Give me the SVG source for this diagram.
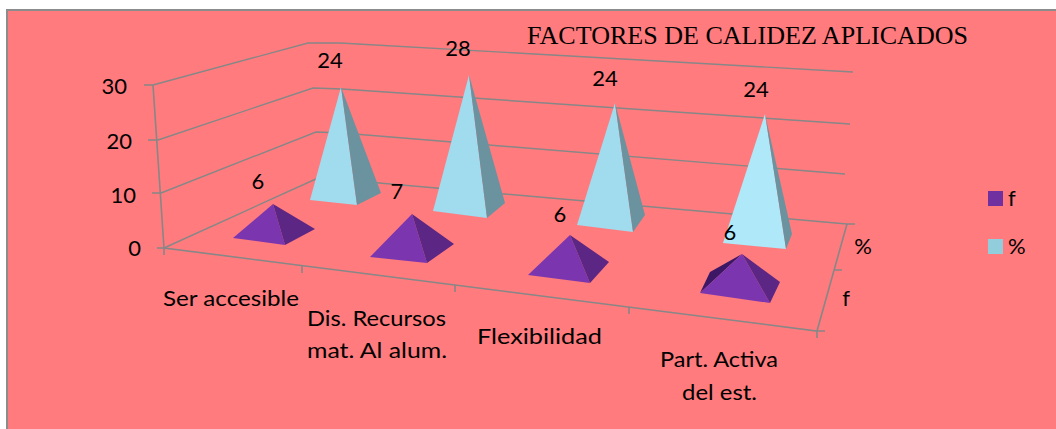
<svg xmlns="http://www.w3.org/2000/svg" width="1056" height="429" viewBox="0 0 1056 429">
<style>
.ax{fill:none;stroke:#878787;stroke-width:1.6}
.gr{fill:none;stroke:#878787;stroke-width:1.4}
.t{font-family:Lato,"Liberation Sans",sans-serif;font-size:22px;fill:#000}
.tm{text-anchor:middle}
.te{text-anchor:end}
.pl{fill:#7B36AF}
.pd{fill:#5C2684}
.pk{fill:#3C1766}
.bl{fill:#A0DCEE}
.bl2{fill:#AEE8F9}
.bd{fill:#6B929F}
</style>
<rect x="0" y="0" width="1056" height="429" fill="#ffffff"/>
<rect x="7" y="10" width="1060" height="430" fill="#FF7B7E" stroke="#8c8c8c" stroke-width="2"/>
<text x="527" y="44" style="font-family:'Liberation Serif','Times New Roman',serif;font-size:25.5px" textLength="441" lengthAdjust="spacingAndGlyphs">FACTORES DE CALIDEZ APLICADOS</text>
<g id="connectors">
<polyline class="gr" points="153,85 308,43 340,43 853,72"/>
<polyline class="gr" points="158,140 313,88 342,89 850,124"/>
<polyline class="gr" points="161,193 316,132 342,133 845,174"/>
<polyline class="gr" points="164,248 318,178 345,180 847,224"/>
<polyline class="ax" points="153,85 164,248 817,331 847,224"/>
<path class="ax" d="M144,85H153M148,140H158M152,193H161M157,248H164M164,248V255M302,265V273M455,285V292M629,307V314M817,331V338M817,331H825M834,270H842M847,224H855"/>
</g>
<g id="axis-labels">
<text class="t te" x="127" y="94">30</text>
<text class="t te" x="132" y="149">20</text>
<text class="t te" x="136" y="203">10</text>
<text class="t te" x="141" y="256">0</text>
<text class="t" x="163" y="306" textLength="136" lengthAdjust="spacingAndGlyphs">Ser accesible</text>
<text class="t" x="307" y="326" textLength="139" lengthAdjust="spacingAndGlyphs">Dis. Recursos</text>
<text class="t" x="307" y="358" textLength="140" lengthAdjust="spacingAndGlyphs">mat. Al alum.</text>
<text class="t" x="477" y="344" textLength="125" lengthAdjust="spacingAndGlyphs">Flexibilidad</text>
<text class="t" x="660" y="367" textLength="118" lengthAdjust="spacingAndGlyphs">Part. Activa</text>
<text class="t" x="682" y="400" textLength="75" lengthAdjust="spacingAndGlyphs">del est.</text>
<text class="t tm" x="863" y="254">%</text>
<text class="t tm" x="846" y="306">f</text>
</g>
<g id="pct-1"><polygon class="bl" points="341,87 310,200 357,205"/><polygon class="bd" points="341,87 357,205 381,193"/><text class="t tm" x="330" y="68">24</text></g>
<g id="pct-2"><polygon class="bl" points="469,75 433,211 487,218"/><polygon class="bd" points="469,75 487,218 505,203"/><text class="t tm" x="458" y="56">28</text></g>
<g id="pct-3"><polygon class="bl" points="615,103 577,225 633,232"/><polygon class="bd" points="615,103 633,232 645,215"/><text class="t tm" x="605" y="86">24</text></g>
<g id="pct-4"><polygon class="bl2" points="765,114 723,243 786,249"/><polygon class="bd" points="765,114 786,249 792,234"/><text class="t tm" x="756" y="97">24</text></g>
<g id="f-1"><polygon class="pl" points="273,204 233,238 285,245"/><polygon class="pd" points="273,204 285,245 315,229"/><text class="t tm" x="258" y="189">6</text></g>
<g id="f-2"><polygon class="pl" points="412,214 370,257 427,263"/><polygon class="pd" points="412,214 427,263 454,244"/><text class="t tm" x="397" y="199">7</text></g>
<g id="f-3"><polygon class="pl" points="570,235 528,275 590,283"/><polygon class="pd" points="570,235 590,283 609,262"/><text class="t tm" x="560" y="222">6</text></g>
<g id="f-4"><polygon class="pk" points="742,254 710,272 700,293"/><polygon class="pl" points="742,254 700,293 770,303"/><polygon class="pd" points="742,254 770,303 780,282"/><text class="t tm" x="730" y="240">6</text></g>
<g id="legend">
<rect x="988" y="191" width="15" height="15" fill="#7030A0"/>
<text class="t" x="1008" y="206">f</text>
<rect x="988" y="239" width="15" height="15" fill="#92CDDC"/>
<text class="t" x="1008" y="254">%</text>
</g>
</svg>
